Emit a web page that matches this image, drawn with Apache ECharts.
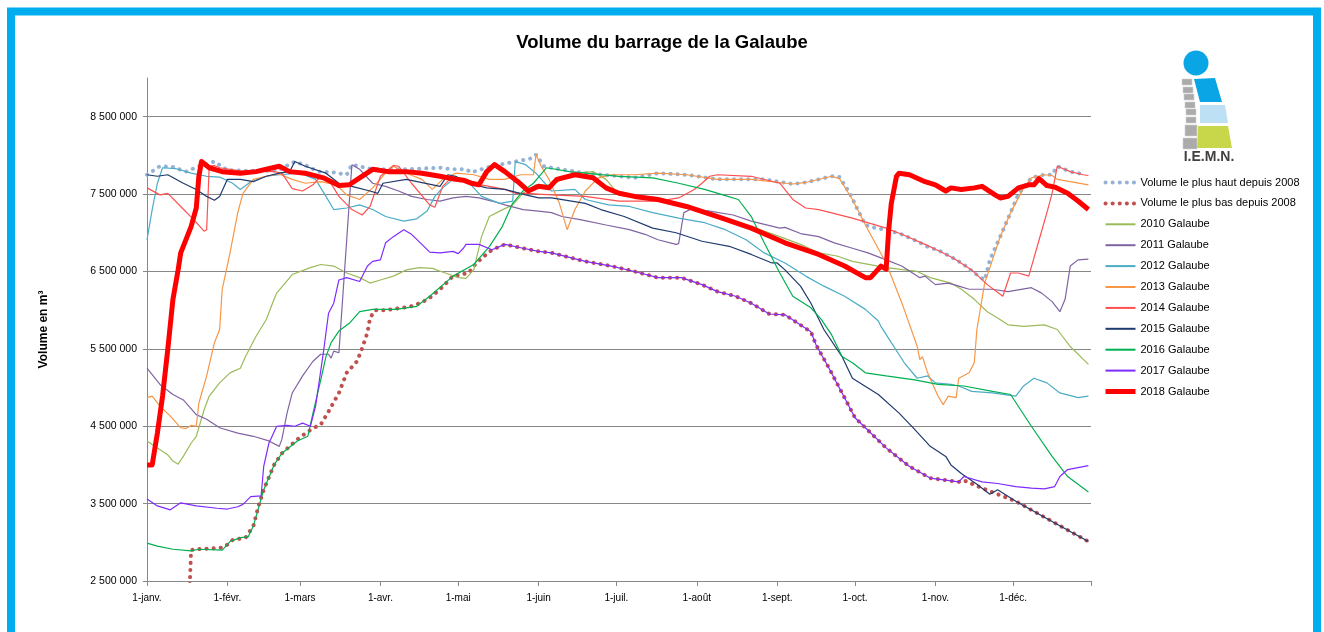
<!DOCTYPE html>
<html>
<head>
<meta charset="utf-8">
<title>Volume du barrage de la Galaube</title>
<script src="https://cdn.jsdelivr.net/npm/echarts@6/dist/echarts.min.js"></script>
<style>
  html, body { margin: 0; padding: 0; background: #fff; }
  #chart { width: 1324px; height: 632px; }
</style>
</head>
<body>
<div id="chart"></div>
<script>
// mois de l'axe des x (année non bissextile)
const monthNames = ['janv.', 'févr.', 'mars', 'avr.', 'mai', 'juin', 'juil.', 'août', 'sept.', 'oct.', 'nov.', 'déc.']
const monthDays = [31, 28, 31, 30, 31, 30, 31, 31, 30, 31, 30, 31]

// volumes en millions de m3, [jour de l'année, volume]
const plusHaut = [[0,7.75],[5,7.86],[10,7.85],[15,7.79],[20,7.86],[26,7.92],[31,7.81],[40,7.80],[50,7.80],[57,7.92],[62,7.86],[66,7.79],[72,7.78],[77,7.75],[79,7.88],[87,7.82],[100,7.82],[106,7.83],[113,7.84],[118,7.82],[123,7.82],[125,7.78],[133,7.86],[142,7.92],[148,7.96],[150,8.01],[153,7.86],[156,7.84],[169,7.77],[182,7.73],[188,7.71],[197,7.77],[208,7.75],[220,7.69],[233,7.69],[238,7.69],[249,7.63],[254,7.65],[259,7.69],[264,7.73],[267,7.72],[271,7.51],[274,7.30],[277,7.10],[281,7.06],[285,7.04],[291,6.98],[297,6.89],[301,6.82],[306,6.76],[311,6.67],[315,6.59],[319,6.48],[323,6.39],[325,6.65],[329,6.95],[333,7.26],[336,7.50],[338,7.58],[341,7.71],[346,7.75],[349,7.75],[351,7.86],[356,7.79],[362,7.75]]
const plusBas = [[16,2.0],[17,2.9],[19,2.91],[29,2.93],[31,2.97],[33,3.03],[38,3.06],[41,3.21],[43,3.47],[45,3.68],[49,4.00],[52,4.15],[58,4.33],[62,4.43],[65,4.49],[67,4.52],[70,4.69],[74,4.93],[77,5.19],[81,5.34],[83,5.51],[85,5.71],[86,5.90],[88,6.00],[92,6.00],[96,6.02],[101,6.04],[106,6.10],[109,6.16],[113,6.27],[118,6.44],[124,6.48],[126,6.57],[129,6.67],[133,6.78],[138,6.85],[145,6.80],[151,6.76],[156,6.74],[169,6.63],[179,6.57],[188,6.50],[197,6.42],[206,6.42],[214,6.33],[220,6.24],[227,6.18],[233,6.09],[240,5.95],[246,5.94],[251,5.83],[256,5.72],[258,5.55],[263,5.25],[268,4.93],[273,4.61],[277,4.48],[285,4.22],[294,3.98],[302,3.83],[313,3.78],[315,3.80],[322,3.70],[335,3.53],[349,3.27],[363,3.01]]
const vol2010 = [[0,4.31],[4,4.22],[8,4.13],[10,4.05],[12,4.01],[14,4.11],[17,4.28],[19,4.37],[22,4.71],[24,4.89],[28,5.06],[32,5.19],[36,5.25],[38,5.40],[42,5.66],[46,5.88],[49,6.14],[50,6.22],[56,6.46],[63,6.55],[67,6.59],[72,6.57],[77,6.48],[82,6.42],[86,6.35],[90,6.39],[95,6.44],[100,6.52],[105,6.55],[110,6.54],[115,6.48],[120,6.42],[123,6.41],[126,6.52],[129,6.95],[132,7.21],[136,7.28],[141,7.36],[145,7.51],[150,7.62],[156,7.62],[165,7.77],[172,7.79],[177,7.69],[182,7.49],[195,7.45],[208,7.36],[220,7.23],[233,7.08],[244,6.95],[252,6.85],[259,6.74],[266,6.70],[272,6.63],[285,6.55],[297,6.50],[302,6.42],[310,6.35],[314,6.27],[319,6.14],[324,5.98],[328,5.90],[332,5.81],[338,5.79],[346,5.81],[351,5.75],[356,5.53],[363,5.30]]
const vol2011 = [[0,5.25],[5,5.04],[10,4.91],[14,4.84],[19,4.65],[23,4.59],[28,4.48],[35,4.41],[41,4.37],[47,4.31],[51,4.24],[52,4.33],[54,4.67],[56,4.93],[60,5.15],[64,5.34],[67,5.43],[70,5.43],[71,5.38],[72,5.47],[74,5.45],[79,7.88],[82,7.82],[87,7.64],[92,7.60],[97,7.54],[102,7.47],[108,7.43],[113,7.41],[118,7.45],[123,7.47],[128,7.45],[133,7.41],[138,7.36],[145,7.30],[151,7.28],[156,7.26],[160,7.21],[167,7.17],[177,7.10],[186,7.04],[192,6.98],[197,6.91],[204,6.85],[205,6.86],[207,7.26],[210,7.31],[217,7.28],[226,7.23],[233,7.15],[244,7.06],[246,7.07],[252,6.99],[259,6.95],[265,6.87],[272,6.80],[278,6.74],[285,6.65],[291,6.57],[298,6.42],[300,6.44],[304,6.33],[309,6.35],[313,6.31],[317,6.27],[326,6.27],[332,6.24],[341,6.29],[345,6.22],[349,6.11],[352,5.98],[354,6.14],[356,6.57],[359,6.65],[363,6.66]]
const vol2012 = [[0,6.91],[2,7.30],[4,7.64],[6,7.84],[11,7.83],[17,7.77],[23,7.73],[28,7.72],[33,7.64],[36,7.56],[40,7.66],[46,7.73],[51,7.75],[59,7.77],[65,7.69],[69,7.47],[72,7.30],[77,7.32],[82,7.36],[87,7.30],[92,7.21],[99,7.15],[104,7.18],[108,7.28],[111,7.47],[114,7.58],[118,7.69],[123,7.69],[129,7.47],[136,7.38],[141,7.41],[142,7.92],[146,7.88],[150,7.77],[156,7.54],[165,7.56],[169,7.43],[178,7.36],[186,7.34],[195,7.26],[205,7.19],[215,7.13],[223,7.04],[231,6.91],[238,6.74],[246,6.61],[254,6.44],[261,6.31],[269,6.18],[277,6.01],[282,5.86],[283,5.79],[287,5.58],[292,5.32],[297,5.12],[301,5.15],[304,5.06],[310,5.04],[313,5.02],[318,4.95],[326,4.93],[335,4.89],[338,5.02],[342,5.12],[347,5.06],[352,4.93],[359,4.87],[363,4.89]]
const vol2013 = [[0,4.87],[2,4.89],[5,4.76],[9,4.63],[13,4.48],[15,4.47],[17,4.51],[19,4.50],[20,4.80],[23,5.15],[26,5.58],[28,5.75],[29,6.27],[32,6.74],[35,7.26],[37,7.51],[41,7.69],[46,7.73],[51,7.76],[56,7.69],[61,7.64],[67,7.66],[73,7.62],[77,7.49],[82,7.43],[87,7.58],[92,7.77],[95,7.86],[100,7.77],[106,7.69],[110,7.56],[114,7.69],[119,7.77],[126,7.75],[132,7.69],[138,7.69],[144,7.75],[149,7.75],[150,8.01],[152,7.86],[155,7.69],[159,7.38],[162,7.04],[165,7.30],[169,7.54],[174,7.71],[179,7.75],[188,7.75],[197,7.77],[208,7.75],[220,7.69],[233,7.69],[249,7.63],[254,7.65],[264,7.73],[267,7.70],[272,7.43],[278,7.04],[285,6.61],[291,6.10],[297,5.53],[298,5.36],[299,5.40],[301,5.19],[305,4.89],[307,4.78],[309,4.89],[312,4.87],[313,5.12],[317,5.19],[319,5.32],[320,5.75],[323,6.35],[326,6.65],[329,6.95],[333,7.26],[338,7.58],[341,7.71],[346,7.75],[349,7.74],[351,7.69],[356,7.66],[363,7.62]]
const vol2014 = [[0,7.58],[5,7.49],[8,7.51],[13,7.34],[18,7.17],[22,7.02],[23,7.04],[24,7.86],[26,7.87],[28,7.84],[36,7.80],[49,7.79],[52,7.77],[56,7.57],[60,7.54],[64,7.62],[67,7.73],[70,7.69],[74,7.47],[79,7.30],[83,7.23],[86,7.34],[90,7.73],[95,7.87],[97,7.86],[102,7.64],[109,7.36],[111,7.33],[114,7.60],[118,7.73],[123,7.69],[129,7.62],[138,7.56],[142,7.51],[147,7.51],[151,7.50],[156,7.49],[169,7.47],[182,7.41],[197,7.41],[205,7.45],[211,7.56],[214,7.64],[217,7.73],[220,7.75],[233,7.73],[244,7.64],[249,7.43],[254,7.32],[259,7.30],[272,7.19],[285,7.06],[291,6.98],[300,6.85],[305,6.77],[311,6.67],[318,6.52],[324,6.33],[330,6.18],[333,6.48],[336,6.48],[340,6.44],[344,6.91],[347,7.26],[349,7.51],[351,7.86],[356,7.79],[361,7.75],[363,7.74]]
const vol2015 = [[0,7.75],[4,7.73],[8,7.75],[14,7.64],[19,7.56],[23,7.47],[26,7.42],[28,7.47],[31,7.69],[36,7.69],[41,7.66],[46,7.73],[51,7.77],[55,7.79],[57,7.92],[61,7.86],[69,7.77],[74,7.64],[79,7.60],[86,7.54],[89,7.51],[91,7.64],[100,7.69],[113,7.60],[116,7.75],[119,7.73],[124,7.64],[131,7.58],[138,7.56],[146,7.49],[151,7.45],[156,7.45],[169,7.38],[175,7.30],[184,7.21],[195,7.06],[204,7.00],[214,6.89],[225,6.82],[233,6.72],[241,6.61],[243,6.61],[246,6.52],[252,6.31],[256,6.09],[261,5.75],[268,5.40],[272,5.12],[282,4.91],[290,4.67],[296,4.46],[302,4.24],[308,4.11],[310,4.00],[314,3.89],[320,3.75],[325,3.62],[328,3.68],[335,3.53],[349,3.27],[363,3.01]]
const vol2016 = [[0,2.99],[4,2.95],[10,2.91],[17,2.89],[20,2.91],[29,2.90],[32,3.01],[36,3.06],[39,3.07],[41,3.21],[45,3.68],[49,4.00],[52,4.15],[58,4.31],[62,4.37],[64,4.67],[67,5.10],[69,5.40],[71,5.58],[74,5.73],[78,5.83],[82,5.98],[87,6.01],[96,6.01],[104,6.05],[109,6.18],[118,6.44],[126,6.59],[132,6.82],[137,7.08],[141,7.38],[145,7.54],[149,7.64],[151,7.72],[154,7.84],[163,7.79],[182,7.73],[195,7.71],[205,7.64],[215,7.56],[224,7.47],[228,7.43],[233,7.21],[238,6.87],[244,6.48],[249,6.18],[256,6.03],[260,5.88],[264,5.68],[268,5.40],[272,5.32],[277,5.19],[285,5.15],[296,5.10],[305,5.04],[315,5.02],[326,4.95],[333,4.91],[341,4.50],[349,4.11],[355,3.85],[363,3.65]]
const vol2017 = [[0,3.56],[4,3.47],[9,3.42],[13,3.51],[19,3.47],[27,3.44],[31,3.43],[35,3.46],[37,3.49],[40,3.59],[44,3.60],[45,3.98],[47,4.28],[50,4.50],[54,4.51],[57,4.50],[60,4.54],[63,4.50],[65,4.76],[68,5.45],[70,5.96],[72,6.09],[74,6.39],[77,6.42],[82,6.37],[85,6.57],[87,6.63],[90,6.65],[92,6.87],[95,6.95],[99,7.04],[102,6.98],[106,6.85],[109,6.75],[113,6.74],[118,6.76],[120,6.73],[122,6.80],[123,6.85],[128,6.85],[133,6.78],[138,6.85],[145,6.80],[151,6.76],[156,6.74],[169,6.63],[179,6.57],[188,6.50],[197,6.42],[206,6.42],[214,6.33],[220,6.24],[227,6.18],[233,6.09],[240,5.95],[246,5.94],[251,5.83],[256,5.72],[258,5.55],[263,5.25],[268,4.93],[273,4.61],[277,4.48],[285,4.22],[294,3.98],[302,3.83],[313,3.78],[315,3.85],[322,3.78],[328,3.76],[335,3.72],[341,3.70],[346,3.69],[350,3.72],[352,3.85],[355,3.94],[363,3.99]]
const vol2018 = [[0,4.00],[2,4.00],[4,4.41],[6,4.89],[8,5.49],[10,6.14],[12,6.52],[13,6.74],[17,7.08],[19,7.32],[20,7.73],[21,7.92],[24,7.84],[29,7.79],[36,7.77],[42,7.79],[46,7.82],[51,7.86],[55,7.79],[61,7.77],[68,7.71],[74,7.61],[78,7.62],[82,7.71],[87,7.82],[93,7.79],[100,7.79],[106,7.77],[113,7.73],[119,7.69],[122,7.68],[125,7.64],[128,7.62],[131,7.79],[134,7.88],[138,7.79],[143,7.66],[147,7.54],[151,7.60],[155,7.58],[158,7.69],[165,7.75],[172,7.71],[177,7.58],[182,7.51],[188,7.47],[197,7.43],[208,7.34],[220,7.21],[233,7.06],[246,6.87],[259,6.72],[269,6.57],[277,6.42],[279,6.42],[283,6.57],[285,6.53],[286,7.04],[287,7.38],[289,7.73],[290,7.77],[294,7.75],[300,7.66],[304,7.62],[308,7.54],[310,7.58],[314,7.56],[319,7.58],[322,7.60],[327,7.49],[329,7.45],[332,7.47],[336,7.58],[340,7.62],[342,7.62],[344,7.70],[347,7.61],[350,7.59],[355,7.51],[359,7.41],[363,7.30]]

const yTicks = { min: 2.5, max: 9, step: 1 }

// jours de l'année : "1-janv.", "2-janv.", ...
const days = []
const monthStart = {}
monthNames.forEach((m, i) => {
  monthStart[days.length] = true
  for (let d = 1; d <= monthDays[i]; d++) days.push(d + '-' + m)
})
const lastDay = days.length - 1

const fmtVolume = (v) => Math.round(v * 1e6).toString().replace(/\B(?=(\d{3})+(?!\d))/g, ' ')

const font = 'Liberation Sans'

const thin = (name, color, data) => ({
  name: name,
  type: 'line',
  data: data,
  symbol: 'none',
  lineStyle: { color: color, width: 1.2 },
  itemStyle: { color: color }
})
const dotted = (name, color, data) => ({
  name: name,
  type: 'line',
  data: data,
  symbol: 'none',
  lineStyle: { color: color, width: 4, type: [0.1, 7], cap: 'round' },
  itemStyle: { color: color }
})

const series = [
  dotted('Volume le plus haut depuis 2008', '#95B3D7', plusHaut),
  dotted('Volume le plus bas depuis 2008', '#C0504D', plusBas),
  thin('2010 Galaube', '#9BBB59', vol2010),
  thin('2011 Galaube', '#8064A2', vol2011),
  thin('2012 Galaube', '#4BACC6', vol2012),
  thin('2013 Galaube', '#F79646', vol2013),
  thin('2014 Galaube', '#FF5050', vol2014),
  thin('2015 Galaube', '#1F3A6E', vol2015),
  thin('2016 Galaube', '#00B050', vol2016),
  thin('2017 Galaube', '#7F2BFF', vol2017),
  {
    name: '2018 Galaube',
    type: 'line',
    data: vol2018,
    symbol: 'none',
    lineStyle: { color: '#FF0000', width: 5, join: 'round' },
    itemStyle: { color: '#FF0000' }
  }
]

// épaisseur des traits dans la légende
const legendItems = series.map(s => ({
  name: s.name,
  lineStyle: { width: s.lineStyle.width > 3 ? s.lineStyle.width : 2 }
}))

// logo I.E.M.N. en haut a droite
const grey = { fill: '#ABABAB', stroke: '#D0D0D0', lineWidth: 0.6 }
const logo = {
  type: 'group',
  silent: true,
  children: [
    { type: 'circle', shape: { cx: 1196, cy: 63, r: 12.5 }, style: { fill: '#0AA5E5' } },
    { type: 'polygon', shape: { points: [[1194, 79], [1215, 78], [1222, 102], [1200, 102]] }, style: { fill: '#0AA5E5' } },
    { type: 'polygon', shape: { points: [[1200, 105], [1225, 105], [1228, 123], [1200, 123]] }, style: { fill: '#BDE0F5' } },
    { type: 'polygon', shape: { points: [[1198, 126], [1228, 126], [1232, 148], [1197, 148]] }, style: { fill: '#C8D74A' } },
    { type: 'rect', shape: { x: 1182, y: 79, width: 10, height: 6 }, style: grey },
    { type: 'rect', shape: { x: 1183, y: 87, width: 10, height: 6 }, style: grey },
    { type: 'rect', shape: { x: 1184, y: 94, width: 10, height: 6 }, style: grey },
    { type: 'rect', shape: { x: 1185, y: 102, width: 10, height: 6 }, style: grey },
    { type: 'rect', shape: { x: 1186, y: 109, width: 10, height: 6 }, style: grey },
    { type: 'rect', shape: { x: 1186, y: 117, width: 10, height: 6 }, style: grey },
    { type: 'rect', shape: { x: 1185, y: 125, width: 12, height: 11 }, style: grey },
    { type: 'rect', shape: { x: 1183, y: 138, width: 14, height: 11 }, style: grey },
    {
      type: 'text', x: 1209, y: 157,
      style: { text: 'I.E.M.N.', fill: '#404040', font: 'bold 14px ' + font, align: 'center', verticalAlign: 'middle' }
    }
  ]
}

const chart = echarts.init(document.getElementById('chart'))
chart.setOption({
  animation: false,
  backgroundColor: '#fff',
  title: {
    text: 'Volume du barrage de la Galaube',
    left: 'center',
    top: 33,
    padding: 0,
    textStyle: { fontFamily: font, fontSize: 18.5, fontWeight: 'bold', color: '#000' }
  },
  legend: {
    orient: 'vertical',
    left: 1103,
    top: 177,
    padding: 0,
    itemWidth: 30,
    itemHeight: 12,
    itemGap: 9.9,
    itemStyle: { opacity: 0 },
    textStyle: { fontFamily: font, fontSize: 11, color: '#000' },
    data: legendItems
  },
  grid: { left: 147, right: 233, top: 78, bottom: 51 },
  xAxis: {
    type: 'category',
    data: days,
    boundaryGap: false,
    axisLine: { lineStyle: { color: '#888' } },
    axisTick: {
      length: 5,
      interval: (i) => !!monthStart[i] || i === lastDay,
      lineStyle: { color: '#888' }
    },
    axisLabel: {
      interval: (i) => !!monthStart[i],
      margin: 12,
      fontFamily: font,
      fontSize: 10,
      color: '#000'
    }
  },
  yAxis: {
    type: 'value',
    min: yTicks.min,
    max: yTicks.max,
    interval: yTicks.step,
    name: 'Volume en m³',
    nameLocation: 'middle',
    nameGap: 97,
    nameTextStyle: { fontFamily: font, fontSize: 12, fontWeight: 'bold', color: '#000' },
    axisLine: { show: true, lineStyle: { color: '#888' } },
    axisTick: { show: true, length: 4, lineStyle: { color: '#888' } },
    axisLabel: {
      showMaxLabel: false,
      margin: 10,
      fontFamily: font,
      fontSize: 10.5,
      color: '#000',
      formatter: (v) => (v > yTicks.max - yTicks.step / 2 ? '' : fmtVolume(v))
    },
    splitLine: { show: true, showMaxLine: false, lineStyle: { color: '#888', width: 1 } }
  },
  graphic: [
    {
      type: 'rect',
      shape: { x: 11, y: 11.5, width: 1306, height: 700 },
      style: { fill: 'none', stroke: '#00AEEF', lineWidth: 8 },
      silent: true
    },
    logo
  ],
  series: series
})
</script>
</body>
</html>
